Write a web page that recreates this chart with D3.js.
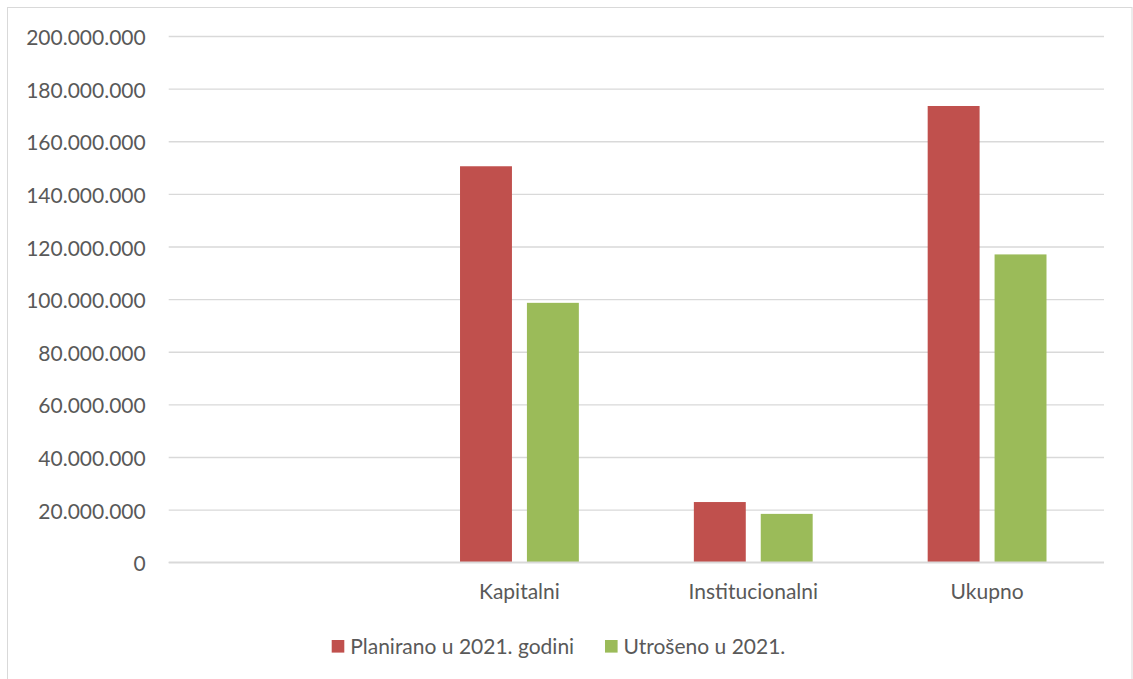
<!DOCTYPE html>
<html>
<head>
<meta charset="utf-8">
<script src="https://cdn.jsdelivr.net/npm/d3@7"></script>
<style>
  html, body { margin: 0; padding: 0; background: #fff; }
  svg text { font-family: Lato, "Open Sans", sans-serif; fill: #595959; }
</style>
</head>
<body>
<svg id="chart" width="1133" height="679"></svg>
<script>
const categories = ["", "Kapitalni", "Institucionalni", "Ukupno"];
const seriesNames = ["Planirano u 2021. godini", "Utrošeno u 2021."];
const planirano = [null, 150500000, 22900000, 173400000];
const utroseno = [null, 98600000, 18400000, 117000000];
const yTicks = [0, 20000000, 40000000, 60000000, 80000000, 100000000, 120000000, 140000000, 160000000, 180000000, 200000000];
const colors = ["#C0504D", "#9BBB59"];

const svg = d3.select("#chart");
const W = 1133, H = 679;
const plot = { left: 168.7, right: 1104, top: 36, bottom: 562.3 };

// outer border
svg.append("rect").attr("x", 7.5).attr("y", 7.5).attr("width", 1124.5).attr("height", 700)
  .attr("fill", "#fff").attr("stroke", "#d9d9d9").attr("stroke-width", 1);

const locale = d3.formatLocale({ decimal: ",", thousands: ".", grouping: [3], currency: ["", ""] });
const fmt = locale.format(",d");

const x = d3.scaleBand().domain(categories).range([plot.left, plot.right]).padding(0);
const x1 = d3.scaleBand().domain(seriesNames)
  .range([57.5, x.bandwidth() - 57.5]).paddingInner(15 / 67).paddingOuter(0);
const y = d3.scaleLinear().domain([0, 200000000]).range([plot.bottom, plot.top]);

// gridlines + y labels via axis
const yAxis = d3.axisLeft(y).tickValues(yTicks).tickFormat(fmt)
  .tickSize(-(plot.right - plot.left)).tickPadding(23);
const ga = svg.append("g").attr("transform", `translate(${plot.left},0)`).call(yAxis);
ga.select(".domain").remove();
ga.selectAll(".tick line").attr("stroke", "#d9d9d9").attr("stroke-width", 1.4);
ga.selectAll(".tick text").attr("fill", "#595959").style("font-size", "21px")
  .attr("dy", null).attr("dominant-baseline", "central");

// bars
const data = categories.map((c, i) => ({ cat: c, vals: [planirano[i], utroseno[i]] }));
const groups = svg.append("g").selectAll("g").data(data).join("g")
  .attr("transform", d => `translate(${x(d.cat)},0)`);
groups.selectAll("rect")
  .data(d => d.vals.map((v, j) => ({ s: seriesNames[j], v, j })).filter(e => e.v != null))
  .join("rect")
  .attr("x", e => x1(e.s))
  .attr("width", x1.bandwidth())
  .attr("y", e => y(e.v))
  .attr("height", e => y(0) - y(e.v))
  .attr("fill", e => colors[e.j]);

// baseline
svg.append("line").attr("x1", plot.left).attr("x2", plot.right)
  .attr("y1", y(0)).attr("y2", y(0)).attr("stroke", "#d9d9d9").attr("stroke-width", 1.4);

// x axis labels
const xAxis = d3.axisBottom(x).tickSize(0).tickPadding(0);
const gx = svg.append("g").attr("transform", `translate(0,${y(0)})`).call(xAxis);
gx.select(".domain").remove();
gx.selectAll(".tick text").attr("dy", null).attr("y", 36.5)
  .style("font-size", "21px").attr("fill", "#595959");

// legend
const legendX = [331.7, 605];
const lg = svg.append("g").selectAll("g").data(seriesNames).join("g")
  .attr("transform", (d, i) => `translate(${legendX[i]},640)`);
lg.append("rect").attr("width", 12.6).attr("height", 12.6).attr("fill", (d, i) => colors[i]);
lg.append("text").attr("x", 18.5).attr("y", 14).style("font-size", "21px").text(d => d);
</script>
</body>
</html>
